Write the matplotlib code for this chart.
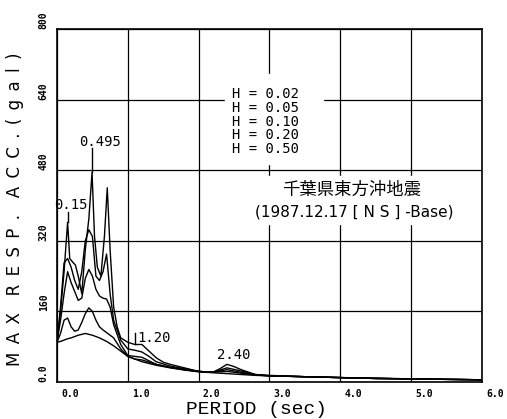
import numpy as np
import matplotlib
matplotlib.use("Agg")
from matplotlib import pyplot as plt
from matplotlib.transforms import ScaledTranslation

# damping factors
damping = ["0.02", "0.05", "0.10", "0.20", "0.50"]

# H = 0.02
t_02 = [0, 0.05, 0.1, 0.15, 0.18, 0.22, 0.26, 0.3, 0.35, 0.4, 0.45, 0.495, 0.53, 0.57,
        0.62, 0.67, 0.71, 0.75, 0.8, 0.85, 0.9, 0.95, 1.0, 1.1, 1.2, 1.3, 1.4, 1.5, 1.6,
        1.8, 2.0, 2.2, 2.3, 2.4, 2.5, 2.6, 2.8, 3.0, 3.5, 4.0, 4.5, 5.0, 5.5, 6.0]
a_02 = [90, 160, 250, 362, 280, 272, 265, 240, 200, 300, 370, 475, 330, 260,
        240, 330, 440, 300, 170, 125, 100, 95, 90, 85, 85, 70, 55, 45, 40,
        32, 24, 22, 30, 40, 35, 28, 17, 15, 12, 10, 9, 7, 6, 5]

# H = 0.05 / 0.10 / 0.20 / 0.50 share one period grid
t_std = [0, 0.05, 0.1, 0.15, 0.2, 0.25, 0.3, 0.35, 0.4, 0.45, 0.5, 0.55, 0.6, 0.65,
         0.7, 0.75, 0.8, 0.9, 1.0, 1.1, 1.2, 1.3, 1.4, 1.6, 1.8, 2.0, 2.2, 2.4, 2.6,
         2.8, 3.0, 3.5, 4.0, 4.5, 5.0, 5.5, 6.0]
a_05 = [90, 170, 270, 280, 260, 230, 210, 250, 320, 345, 330, 240, 230, 250,
        290, 200, 140, 95, 75, 72, 68, 58, 46, 36, 30, 24, 22, 32, 25,
        17, 14, 12, 10, 8, 7, 6, 5]
a_10 = [90, 140, 200, 250, 225, 205, 185, 190, 235, 255, 240, 210, 195, 190,
        188, 170, 130, 85, 60, 58, 56, 48, 40, 33, 28, 24, 22, 28, 22,
        16, 14, 12, 10, 8, 7, 6, 5]
a_20 = [90, 110, 140, 145, 125, 115, 118, 135, 155, 168, 160, 140, 125, 118,
        112, 106, 100, 75, 58, 52, 50, 45, 40, 33, 28, 24, 22, 24, 20,
        16, 14, 12, 10, 8, 7, 6, 5]
a_50 = [90, 92, 95, 98, 100, 103, 106, 108, 110, 108, 106, 103, 100, 96,
        92, 87, 82, 70, 58, 52, 46, 42, 38, 32, 27, 23, 21, 19, 17,
        15, 14, 12, 10, 8, 7, 6, 5]

xticks = [0, 1, 2, 3, 4, 5, 6]
xlabels = ["0.0", "1.0", "2.0", "3.0", "4.0", "5.0", "6.0"]
yticks = [0, 160, 320, 480, 640, 800]
ylabels = ["0.0", "160", "320", "480", "640", "800"]

fig = plt.figure(figsize=(5.07, 4.19), dpi=100)
ax = fig.add_axes([0.1124, 0.0883, 0.838, 0.8425])

for t, a in [(t_02, a_02), (t_std, a_05), (t_std, a_10), (t_std, a_20), (t_std, a_50)]:
    ax.plot(t, a, color="black", lw=1.0, zorder=3)

ax.set_xlim(0, 6)
ax.set_ylim(0, 800)
ax.grid(True, color="black", lw=0.9)
for s in ax.spines.values():
    s.set_linewidth(1.2)

ax.set_xticks(xticks)
ax.set_xticklabels(xlabels, ha="left", family="DejaVu Sans Mono", fontsize=7, weight="bold")
ax.set_yticks(yticks)
ax.set_yticklabels(ylabels, rotation=90, va="bottom", ha="right",
                   family="DejaVu Sans Mono", fontsize=7, weight="bold")
ax.tick_params(length=0)
ax.tick_params(axis="x", pad=5)
ax.tick_params(axis="y", pad=6)
for lab in ax.get_xticklabels():
    lab.set_transform(lab.get_transform() + ScaledTranslation(3 / 72, 0, fig.dpi_scale_trans))

# white boxes hiding the grid under the texts
ax.fill_between([2.37, 3.76], 493, 698, color="white", zorder=2)
ax.fill_between([2.6, 5.8], 357, 466, color="white", zorder=2)

mono = "DejaVu Sans Mono"
for i, h in enumerate(damping):
    ax.text(2.47, 652 - i * 31, "H = " + h, family=mono, fontsize=10,
            va="center", ha="left", zorder=4)

ax.text(4.16, 435, "千葉県東方沖地震", family=["Noto Sans CJK JP", "DejaVu Sans"],
        fontsize=12.5, ha="center", va="center", zorder=4)
ax.text(4.2, 385, "(1987.12.17 [ N S ] -Base)", family=["DejaVu Sans"],
        fontsize=11, ha="center", va="center", zorder=4)

# peak period marks
ax.plot([0.495, 0.495], [475, 530], color="black", lw=1.0, zorder=3)
ax.text(0.61, 545, "0.495", family=mono, fontsize=10, ha="center", va="center", zorder=4)
ax.plot([0.15, 0.15], [362, 385], color="black", lw=1.0, zorder=3)
ax.text(0.2, 402, "0.15", family=mono, fontsize=10, ha="center", va="center", zorder=4)
ax.plot([1.1, 1.1], [85, 112], color="black", lw=1.0, zorder=3)
ax.text(1.14, 100, "1.20", family=mono, fontsize=10, ha="left", va="center", zorder=4)
ax.text(2.5, 62, "2.40", family=mono, fontsize=10, ha="center", va="center", zorder=4)

sp = "\u2002"
ylab = sp.join("MAX") + sp * 2 + sp.join("RESP.") + sp * 2 + sp.join("ACC.(gal)")
fig.text(15 / 507, 1 - 209 / 419, ylab, family="DejaVu Sans", fontsize=12,
         rotation=90, ha="center", va="center")
fig.text(256 / 507, 1 - 409 / 419, "PERIOD (sec)", family="Liberation Mono",
         fontsize=14, ha="center", va="center")

fig.savefig("out.png", dpi=100)
